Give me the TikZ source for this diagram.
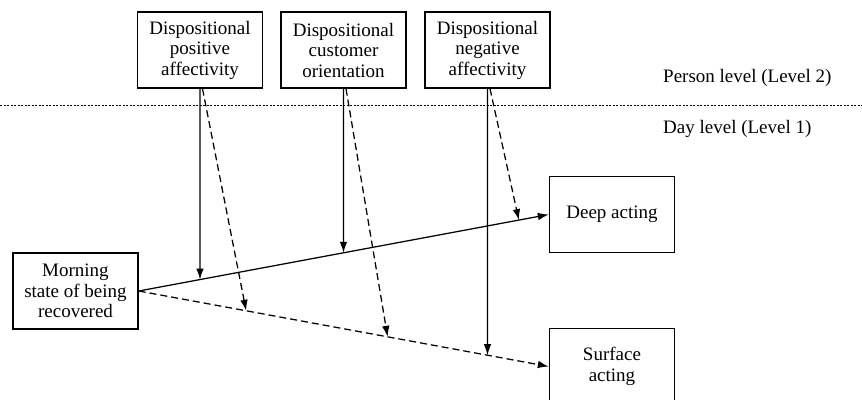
\documentclass[tikz,border=0pt]{standalone}
\usepackage{fontspec}
\setmainfont{Liberation Serif}
\usetikzlibrary{positioning,arrows.meta}

\begin{document}
\begin{tikzpicture}[
    x=1pt, y=-1pt,
    font=\fontsize{19pt}{20.5pt}\selectfont,
    box/.style={draw, line width=1.4pt, minimum width=125pt, minimum height=76pt, align=center, inner sep=2pt},
    link/.style={-{Latex[length=11pt,width=7.5pt]}, line width=1.25pt},
    modlink/.style={link, dash pattern=on 7pt off 4pt},
    levelline/.style={line width=0.8pt, dash pattern=on 2pt off 1.5pt},
    level/.style={anchor=west, inner sep=0pt}
]
\useasboundingbox (0,0) rectangle (862,399);
% person level
\node[box] (pa) at (200,50) {Dispositional\\ positive\\ affectivity};
\node[box] (co) at (343.5,50) {Dispositional\\ customer\\ orientation};
\node[box] (na) at (487.5,50) {Dispositional\\ negative\\ affectivity};
\node[level] (person) at (663,78) {Person level (Level 2)};
\node[level] (day) at (663,129) {Day level (Level 1)};
\coordinate (lvlleft) at (0,105);
\coordinate (lvlright) at (862,105);
\draw[levelline] (lvlleft) -- (lvlright);
% day level
\node[box] (morning) at (75.5,291) {Morning\\ state of being\\ recovered};
\node[box] (deep) at (612,214.5) {Deep acting};
\node[box] (surface) at (612,366.5) {Surface\\ acting};
\draw[link] (morning.east) -- coordinate[pos=0.927] (mna) (deep.west);
\draw[modlink] (morning.east) -- coordinate[pos=0.262] (spa) coordinate[pos=0.607] (sco) (surface.west);
% moderators
\coordinate (pafoot) at (pa.south |- morning.south);
\coordinate (cofoot) at (co.south |- morning.south);
\coordinate (nafoot) at (na.south |- morning.south);
\draw[link] (pa.south) -- (intersection of pa.south--pafoot and morning.east--deep.west);
\draw[link] (co.south) -- (intersection of co.south--cofoot and morning.east--deep.west);
\draw[link] (na.south) -- (intersection of na.south--nafoot and morning.east--surface.west);
\draw[modlink] ([xshift=2.5pt]pa.south) -- (spa);
\draw[modlink] ([xshift=2.5pt]co.south) -- (sco);
\draw[modlink] ([xshift=2.5pt]na.south) -- (mna);
\end{tikzpicture}
\end{document}
